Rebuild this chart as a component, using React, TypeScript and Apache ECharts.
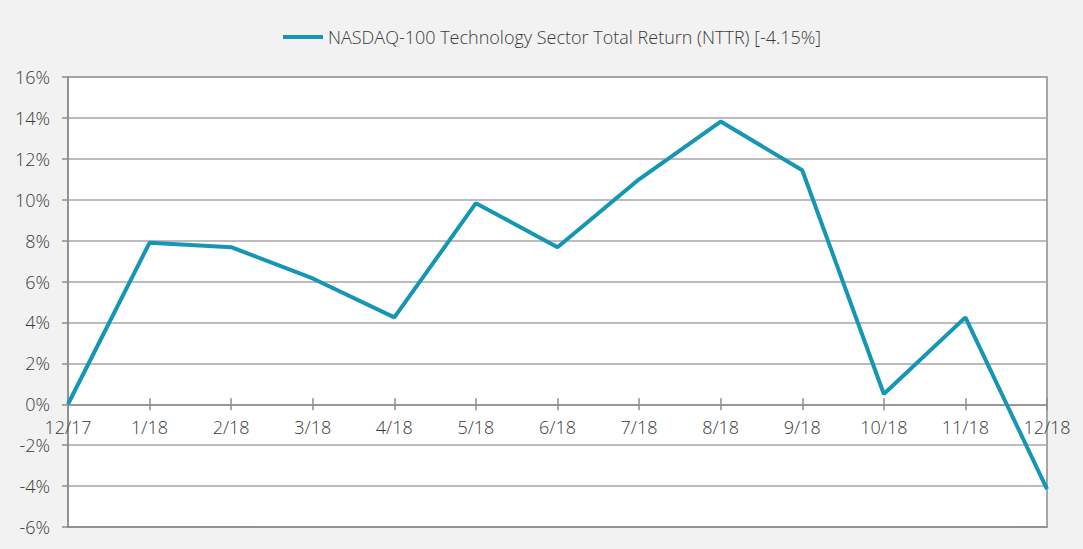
import React, { useEffect, useRef } from "react";
import * as echarts from "echarts";

const categories = ["12/17", "1/18", "2/18", "3/18", "4/18", "5/18", "6/18", "7/18", "8/18", "9/18", "10/18", "11/18", "12/18"];
const seriesName = "NASDAQ-100 Technology Sector Total Return (NTTR) [-4.15%]";
const values = [0, 7.9, 7.68, 6.15, 4.25, 9.83, 7.68, 11.0, 13.82, 11.44, 0.5, 4.25, -4.15];
const yMin = -6;
const yMax = 16;
const yStep = 2;

const FONT = "'Open Sans', 'Noto Sans', sans-serif";
const TEXT = "#3a3a3a";
const AXIS = "#8c8c8c";

export default function App() {
  const ref = useRef<HTMLDivElement>(null);
  useEffect(() => {
    if (!ref.current) return;
    const chart = echarts.init(ref.current, null, { renderer: "svg" });
    chart.setOption({
      animation: false,
      backgroundColor: "#f2f2f2",
      textStyle: { fontFamily: FONT },
      legend: {
        top: 23,
        left: 278,
        itemWidth: 40,
        itemHeight: 4,
        itemGap: 4,
        icon: "rect",
        textStyle: { fontSize: 18, color: TEXT, fontFamily: FONT, fontWeight: 300 },
        data: [seriesName],
      },
      grid: {
        left: 68,
        right: 36,
        top: 77,
        bottom: 22,
        containLabel: false,
        outerBoundsMode: "none",
        show: true,
        backgroundColor: "#ffffff",
        borderColor: AXIS,
        borderWidth: 1.5,
      },
      xAxis: [
        {
          type: "category",
          data: categories,
          boundaryGap: false,
          position: "bottom",
          axisLine: { onZero: false, lineStyle: { color: AXIS, width: 1.5 } },
          axisTick: { show: false },
          axisLabel: { color: TEXT, fontSize: 18, margin: -109, fontFamily: FONT, fontWeight: 300, interval: 0 },
          splitLine: { show: false },
        },
        {
          type: "category",
          data: categories,
          boundaryGap: false,
          position: "top",
          axisLine: { show: true, onZero: true, onZeroAxisIndex: 0, lineStyle: { color: AXIS, width: 1.5 } },
          axisTick: { show: true, length: 6, inside: false, lineStyle: { color: AXIS, width: 1.5 } },
          axisLabel: { show: false },
          splitLine: { show: false },
        },
        {
          type: "category",
          data: categories,
          boundaryGap: false,
          position: "top",
          axisLine: { show: false, onZero: true, onZeroAxisIndex: 1 },
          axisTick: { show: true, length: 6, inside: true, lineStyle: { color: AXIS, width: 1.5 } },
          axisLabel: { show: false },
          splitLine: { show: false },
        },
      ],
      yAxis: [
        {
          type: "value",
          min: yMin,
          max: yMax,
          interval: yStep,
          axisLine: { show: true, lineStyle: { color: AXIS, width: 1.5 } },
          axisTick: { show: true, length: 6, lineStyle: { color: AXIS, width: 1.5 } },
          axisLabel: { color: TEXT, fontSize: 18, margin: 18, formatter: "{value}%", fontFamily: FONT, fontWeight: 300 },
          splitLine: { show: true, lineStyle: { color: "#a6a6a6", width: 1.5 } },
        },
        {
          type: "value",
          min: yMin,
          max: yMax,
          interval: yStep,
          position: "right",
          axisLine: { show: false },
          axisTick: { show: false },
          axisLabel: { show: false },
          splitLine: { show: false },
        },
      ],
      series: [
        {
          name: seriesName,
          type: "line",
          data: values,
          symbol: "none",
          lineStyle: { color: "#1496b4", width: 4 },
          itemStyle: { color: "#1496b4" },
        },
      ],
    });
    return () => chart.dispose();
  }, []);
  return <div ref={ref} style={{ position: "fixed", left: 0, top: 0, width: 1083, height: 549 }} />;
}
